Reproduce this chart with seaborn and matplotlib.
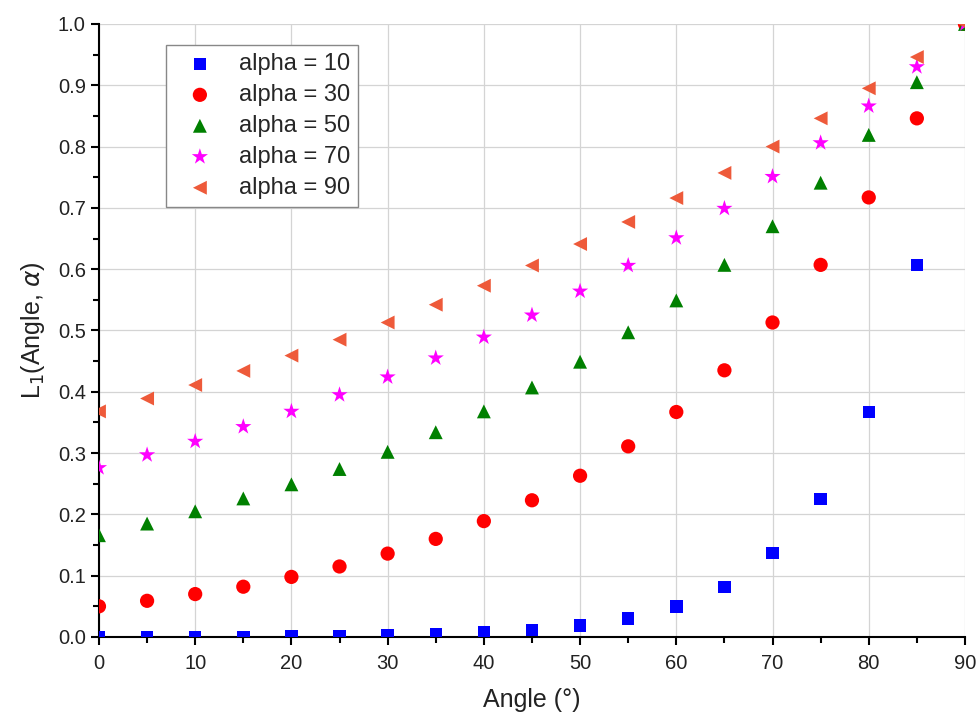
import pandas as pd
import numpy as np
import matplotlib.pyplot as plt
import seaborn as sns

angles = [0, 5, 10, 15, 20, 25, 30, 35, 40, 45, 50, 55, 60, 65, 70, 75, 80, 85, 90]

alpha10 = [0.0, 0.0, 0.0, 0.0, 0.001, 0.002, 0.003, 0.005, 0.008, 0.011, 0.019, 0.03,
           0.05, 0.082, 0.137, 0.225, 0.367, 0.607, 1.0]
alpha30 = [0.05, 0.059, 0.07, 0.082, 0.098, 0.115, 0.136, 0.16, 0.189, 0.223, 0.263, 0.311,
           0.367, 0.435, 0.513, 0.607, 0.717, 0.846, 1.0]
alpha50 = [0.166, 0.185, 0.205, 0.226, 0.249, 0.274, 0.302, 0.334, 0.368, 0.407, 0.449, 0.497,
           0.549, 0.607, 0.670, 0.741, 0.819, 0.905, 1.0]
alpha70 = [0.276, 0.297, 0.319, 0.343, 0.368, 0.395, 0.424, 0.455, 0.489, 0.525, 0.564, 0.606,
           0.651, 0.699, 0.751, 0.806, 0.866, 0.930, 1.0]
alpha90 = [0.368, 0.389, 0.411, 0.434, 0.459, 0.485, 0.513, 0.542, 0.573, 0.606, 0.641, 0.677,
           0.716, 0.757, 0.800, 0.846, 0.895, 0.946, 1.0]

series_names = ["alpha = 10", "alpha = 30", "alpha = 50", "alpha = 70", "alpha = 90"]
series_values = [alpha10, alpha30, alpha50, alpha70, alpha90]

colors = ["#0000FF", "#FF0000", "#008000", "#FF00FF", "#EE5A3A"]
markers = ["s", "o", "^", "*", "<"]
sizes = [80, 105, 100, 150, 100]

rows = []
for name, vals in zip(series_names, series_values):
    for a, v in zip(angles, vals):
        rows.append({"Angle": a, "L1": v, "series": name})
df = pd.DataFrame(rows)

sns.set_style("white")
plt.rcParams["font.family"] = ["Liberation Sans", "DejaVu Sans"]

fig = plt.figure(figsize=(9.76, 7.17), dpi=100)
ax = fig.add_axes([0.1014, 0.1116, 0.8873, 0.855])

for name, c, m, s in zip(series_names, colors, markers, sizes):
    sub = df[df["series"] == name]
    sns.scatterplot(data=sub, x="Angle", y="L1", ax=ax, color=c, marker=m, s=s,
                    edgecolor="none", label=name, zorder=3, clip_on=True)

ax.set_xlim(0, 90)
ax.set_ylim(0, 1.0)
ax.set_xticks(np.arange(0, 91, 10))
ax.set_xticks(np.arange(5, 90, 10), minor=True)
ax.set_yticks(np.arange(0, 1.01, 0.1))
ax.set_yticks(np.arange(0.05, 1.0, 0.1), minor=True)
ax.set_yticklabels([f"{v:.1f}" for v in np.arange(0, 1.01, 0.1)])

ax.grid(True, which="major", color="#d4d4d4", linewidth=0.9)
ax.set_axisbelow(True)
sns.despine(ax=ax)
for sp in ["left", "bottom"]:
    ax.spines[sp].set_color("black")
    ax.spines[sp].set_linewidth(1.5)
ax.tick_params(axis="both", which="major", direction="out", length=6, width=1.5,
               labelsize=14.5, colors="black", labelcolor="#222222", bottom=True, left=True)
ax.tick_params(axis="x", which="major", pad=6)
ax.tick_params(axis="both", which="minor", direction="out", length=4, width=1.5,
               colors="black", bottom=True, left=True)

ax.set_xlabel("Angle (°)", fontsize=18, color="#222222", labelpad=11)
ax.set_ylabel(r"L$_1$(Angle, $\alpha$)", fontsize=18, color="#222222", labelpad=8)

leg = ax.legend(loc="upper left", bbox_to_anchor=(0.077, 0.966), borderaxespad=0,
                fontsize=17, frameon=True, fancybox=False, edgecolor="#888888",
                framealpha=1, handletextpad=0.55, borderpad=0.35, labelspacing=0.38,
                handlelength=2.2)
leg.get_frame().set_linewidth(1.0)

fig.savefig("out.png", dpi=100)
